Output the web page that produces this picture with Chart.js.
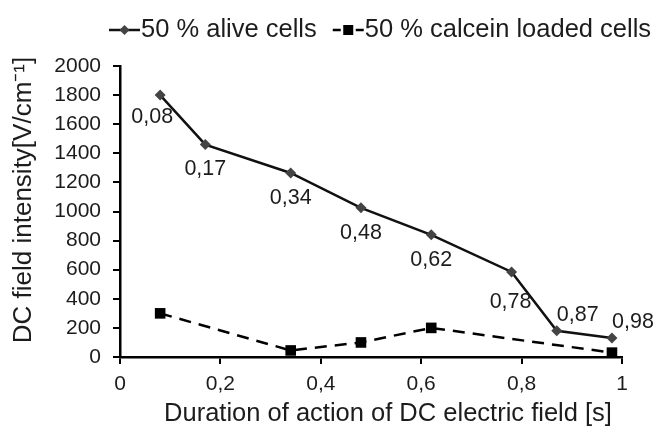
<!DOCTYPE html>
<html lang="en">
<head>
    <meta charset="UTF-8">
    <title>DC field intensity vs duration</title>
    <script src="https://cdn.jsdelivr.net/npm/chart.js"></script>
    <style>
        html, body { margin: 0; padding: 0; background: #fff; }
        #wrap { width: 660px; height: 427px; }
    </style>
</head>
<body>
    <div id="wrap"><canvas id="chart"></canvas></div>

    <script>
        // Data
        const aliveX = [0.08, 0.17, 0.34, 0.48, 0.62, 0.78, 0.87, 0.98];
        const aliveY = [1800, 1460, 1265, 1025, 840, 585, 180, 130];
        const calceinX = [0.08, 0.34, 0.48, 0.62, 0.98];
        const calceinY = [300, 45, 100, 200, 30];
        const xTicks = [0, 0.2, 0.4, 0.6, 0.8, 1];
        const yTicks = [0, 200, 400, 600, 800, 1000, 1200, 1400, 1600, 1800, 2000];
        const seriesNames = ['50 % alive cells', '50 % calcein loaded cells'];
        const xTitle = 'Duration of action of DC electric field [s]';
        const yTitle = 'DC field intensity[V/cm\u207B\u00B9]';

        // where each point label of the first series sits
        const labelPlace = ['belowLeft', 'below', 'below', 'below', 'below', 'belowFar', 'aboveRight', 'aboveRight'];
        const placeOffset = {
            below: [0, 25], belowLeft: [-8, 22], belowFar: [-1, 30], aboveRight: [21, -16]
        };

        const FONT = "'Liberation Sans', Arial, sans-serif";
        const TEXT = '#1c1c1c';
        const comma = v => String(Math.round(v * 100) / 100).replace('.', ',');

        // point labels, legend and axis titles are drawn here
        const extras = {
            id: 'extras',
            afterDatasetsDraw(chart) {
                const ctx = chart.ctx;
                const meta = chart.getDatasetMeta(0);
                ctx.save();
                ctx.fillStyle = TEXT;
                ctx.textAlign = 'center';
                ctx.textBaseline = 'middle';

                ctx.font = '21.5px ' + FONT;
                meta.data.forEach((pt, i) => {
                    const off = placeOffset[labelPlace[i]];
                    ctx.fillText(comma(aliveX[i]), pt.x + off[0], pt.y + off[1]);
                });

                // axis titles
                ctx.font = '25.5px ' + FONT;
                ctx.fillText(xTitle, 388, 414);
                ctx.save();
                ctx.translate(24, 200);
                ctx.rotate(-Math.PI / 2);
                ctx.font = '26px ' + FONT;
                ctx.fillText(yTitle, 0, 0);
                ctx.restore();

                // legend: line with marker, then text
                ctx.font = '25.5px ' + FONT;
                ctx.textAlign = 'left';
                const ly = 30;
                let lx = 109;
                chart.data.datasets.forEach((ds, i) => {
                    ctx.save();
                    ctx.strokeStyle = ds.borderColor;
                    ctx.lineWidth = 2.5;
                    ctx.beginPath();
                    if (i === 0) {
                        ctx.moveTo(lx, ly); ctx.lineTo(lx + 31, ly);
                    } else {
                        ctx.moveTo(lx, ly); ctx.lineTo(lx + 8, ly);
                        ctx.moveTo(lx + 23, ly); ctx.lineTo(lx + 31, ly);
                    }
                    ctx.stroke();
                    ctx.fillStyle = ds.pointBackgroundColor;
                    ctx.beginPath();
                    if (i === 0) {
                        ctx.moveTo(lx + 15.5, ly - 5); ctx.lineTo(lx + 20.5, ly);
                        ctx.lineTo(lx + 15.5, ly + 5); ctx.lineTo(lx + 10.5, ly);
                        ctx.closePath(); ctx.fill();
                    } else {
                        ctx.fillRect(lx + 10.5, ly - 5, 10, 10);
                    }
                    ctx.restore();
                    ctx.fillText(ds.label, lx + 32, ly);
                    lx += 32 + ctx.measureText(ds.label).width + 16;
                });
                ctx.restore();
            }
        };

        const ctx = document.getElementById('chart').getContext('2d');
        const chart = new Chart(ctx, {
            type: 'line',
            data: {
                datasets: [{
                    label: seriesNames[0],
                    data: aliveX.map((x, i) => ({ x: x, y: aliveY[i] })),
                    borderColor: '#111',
                    borderWidth: 2.5,
                    pointStyle: 'rectRot',
                    pointRadius: 5.5,
                    pointBackgroundColor: '#444',
                    pointBorderWidth: 0,
                    tension: 0
                }, {
                    label: seriesNames[1],
                    data: calceinX.map((x, i) => ({ x: x, y: calceinY[i] })),
                    borderColor: '#000',
                    borderWidth: 2.5,
                    borderDash: [12, 8],
                    pointStyle: 'rect',
                    pointRadius: 7.5,
                    pointBackgroundColor: '#000',
                    pointBorderWidth: 0,
                    tension: 0
                }]
            },
            options: {
                responsive: true,
                maintainAspectRatio: false,
                animation: false,
                layout: { padding: { top: 66, right: 38, left: 0, bottom: 0 } },
                plugins: {
                    tooltip: { enabled: false },
                    legend: { display: false }
                },
                scales: {
                    x: {
                        type: 'linear',
                        min: 0, max: 1,
                        afterBuildTicks: s => { s.ticks = xTicks.map(v => ({ value: v })); },
                        ticks: {
                            callback: v => comma(v),
                            color: TEXT,
                            padding: 8,
                            maxRotation: 0,
                            font: { family: FONT, size: 21 }
                        },
                        grid: { drawOnChartArea: false, drawTicks: true, tickLength: 7, color: '#000', lineWidth: 2 },
                        border: { color: '#000', width: 2.5 },
                        afterFit: s => { s.height = 70; }
                    },
                    y: {
                        min: 0, max: 2000,
                        afterBuildTicks: s => { s.ticks = yTicks.map(v => ({ value: v })); },
                        ticks: {
                            callback: v => String(v),
                            color: TEXT,
                            padding: 12,
                            font: { family: FONT, size: 21 }
                        },
                        grid: { drawOnChartArea: false, drawTicks: true, tickLength: 7, color: '#000', lineWidth: 2 },
                        border: { color: '#000', width: 2.5 },
                        afterFit: s => { s.width = 120; }
                    }
                }
            },
            plugins: [extras]
        });
    </script>
</body>
</html>
